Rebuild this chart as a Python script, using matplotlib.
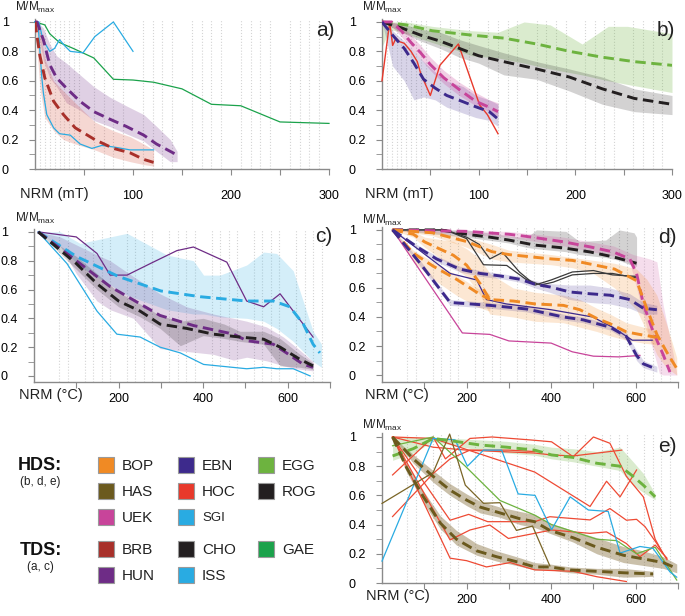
import matplotlib
matplotlib.use("Agg")
import matplotlib.pyplot as plt
from matplotlib.patches import Rectangle
import numpy as np

plt.rcParams['font.family'] = ['Liberation Sans', 'DejaVu Sans']

# ---------------- colours ----------------
C_BOP = '#F08A24'; C_HAS = '#6B5A1E'; C_UEK = '#C8449A'
C_EBN = '#3D2A8C'; C_HOC = '#E8392B'; C_SGI = '#29ABE2'
C_EGG = '#6DB33F'; C_ROG = '#231F20'
C_BRB = '#A8302A'; C_HUN = '#6E2C86'; C_CHO = '#231F20'
C_ISS = '#29ABE2'; C_GAE = '#1BA24B'

# ---------------- panel a (TDS, AF) ----------------
A_BRB_X = [0, 5, 10, 19, 29, 41, 61, 80, 97, 111, 121]
A_BRB_Y = [1.0, 0.77, 0.62, 0.46, 0.37, 0.28, 0.20, 0.14, 0.11, 0.065, 0.045]
A_BRB_HI = [1.0, 0.95, 0.75, 0.60, 0.53, 0.45, 0.32, 0.26, 0.22, 0.17, 0.13]
A_BRB_LO = [1.0, 0.55, 0.35, 0.26, 0.20, 0.17, 0.13, 0.08, 0.05, 0.03, 0.02]
A_HUN_X = [0, 2, 8.5, 15, 22, 32, 46, 60, 76, 93, 111, 124, 138, 145]
A_HUN_Y = [1.0, 1.0, 0.88, 0.71, 0.62, 0.55, 0.46, 0.39, 0.34, 0.29, 0.23, 0.17, 0.12, 0.095]
A_HUN_HI = [1.0, 1.0, 0.96, 0.85, 0.77, 0.72, 0.64, 0.56, 0.49, 0.43, 0.37, 0.29, 0.20, 0.12]
A_HUN_LO = [1.0, 0.97, 0.74, 0.62, 0.56, 0.45, 0.40, 0.33, 0.29, 0.24, 0.19, 0.12, 0.05, 0.05]
A_ISS1_X = [0, 3, 5, 7, 8.5, 12, 19, 25, 36, 46, 58, 68, 80, 97, 121]
A_ISS1_Y = [1.0, 1.0, 0.80, 0.62, 0.52, 0.37, 0.28, 0.24, 0.23, 0.17, 0.14, 0.16, 0.15, 0.13, 0.13]
A_ISS2_X = [0, 4, 8, 15, 20, 25, 30, 36, 49, 61, 80, 100]
A_ISS2_Y = [1.0, 1.0, 0.88, 0.80, 0.82, 0.88, 0.84, 0.80, 0.79, 0.90, 1.0, 0.80]
A_GAE_X = [0, 10, 15, 25, 39, 60, 80, 100, 121, 150, 180, 210, 250, 300]
A_GAE_Y = [1.0, 0.98, 0.92, 0.86, 0.82, 0.755, 0.61, 0.605, 0.59, 0.545, 0.44, 0.43, 0.32, 0.31]

# ---------------- panel b (HDS, AF) ----------------
B_EGG_X = [0, 25, 52, 93, 126, 160, 194, 228, 261, 300]
B_EGG_Y = [1.0, 0.98, 0.94, 0.91, 0.89, 0.85, 0.80, 0.76, 0.73, 0.705]
B_EGG_BX = [0, 8, 25, 52, 72, 93, 120, 147, 174, 207, 234, 254, 300]
B_EGG_HI = [1.0, 1.0, 1.0, 0.97, 0.955, 0.94, 0.93, 1.0, 0.98, 0.85, 0.97, 0.97, 0.92]
B_EGG_LO = [0.83, 0.95, 0.92, 0.86, 0.82, 0.77, 0.755, 0.72, 0.68, 0.64, 0.60, 0.575, 0.52]
B_ROG_X = [0, 20, 40, 60, 80, 100, 126, 160, 194, 228, 261, 300]
B_ROG_Y = [1.0, 0.96, 0.91, 0.87, 0.82, 0.77, 0.73, 0.68, 0.625, 0.545, 0.48, 0.44]
B_ROG_HI = [1.0, 0.99, 0.95, 0.93, 0.88, 0.84, 0.79, 0.73, 0.68, 0.625, 0.545, 0.50]
B_ROG_LO = [1.0, 0.93, 0.87, 0.82, 0.76, 0.72, 0.64, 0.61, 0.53, 0.44, 0.39, 0.37]
B_UEK_X = [0, 10, 20, 30, 40, 50, 64, 80, 97, 111, 120]
B_UEK_Y = [1.0, 1.0, 0.94, 0.86, 0.79, 0.71, 0.62, 0.54, 0.46, 0.42, 0.39]
B_UEK_HI = [1.0, 1.0, 0.98, 0.91, 0.84, 0.76, 0.67, 0.59, 0.52, 0.47, 0.45]
B_UEK_LO = [1.0, 0.97, 0.90, 0.82, 0.75, 0.67, 0.58, 0.50, 0.43, 0.39, 0.36]
B_EBN_X = [0, 11, 23, 33, 43, 55, 67, 84, 97, 111, 120]
B_EBN_Y = [1.0, 0.91, 0.82, 0.72, 0.61, 0.55, 0.50, 0.457, 0.423, 0.39, 0.34]
B_EBN_HI = [1.0, 0.94, 0.87, 0.80, 0.73, 0.66, 0.60, 0.56, 0.50, 0.47, 0.44]
B_EBN_LO = [1.0, 0.70, 0.60, 0.47, 0.49, 0.47, 0.42, 0.38, 0.35, 0.33, 0.29]
B_HOC_X = [0, 8, 11, 14.5, 18, 23, 30, 36.5, 40, 50, 60, 79, 101, 109, 120]
B_HOC_Y = [0.60, 1.0, 0.84, 0.89, 0.866, 0.855, 0.80, 0.73, 0.65, 0.50, 0.706, 0.85, 0.435, 0.37, 0.24]

# ---------------- panel c (TDS, thermal) ----------------
C_ISS_X = [10, 100, 200, 300, 393, 503, 566, 605, 637, 660, 676]
C_ISS_Y = [1.0, 0.83, 0.69, 0.59, 0.55, 0.52, 0.52, 0.48, 0.36, 0.22, 0.16]
C_ISS_BX = [10, 62, 109, 220, 314, 377, 401, 440, 503, 543, 574, 613, 660, 680]
C_ISS_HI = [1.0, 1.0, 0.92, 0.99, 0.84, 0.80, 0.70, 0.70, 0.77, 0.86, 0.85, 0.73, 0.31, 0.22]
C_ISS_LO = [1.0, 0.90, 0.76, 0.56, 0.46, 0.43, 0.43, 0.41, 0.40, 0.38, 0.33, 0.24, 0.10, 0.06]
C_HUNS_X = [10, 100, 149, 180, 220, 275, 338, 377, 456, 503, 543, 582, 621, 660]
C_HUNS_Y = [1.0, 0.965, 0.85, 0.70, 0.70, 0.78, 0.87, 0.895, 0.79, 0.52, 0.48, 0.57, 0.42, 0.27]
C_HUN_X = [10, 100, 180, 204, 298, 377, 472, 503, 566, 597, 637, 660]
C_HUN_Y = [1.0, 0.80, 0.62, 0.58, 0.42, 0.35, 0.29, 0.245, 0.22, 0.16, 0.08, 0.06]
C_HUN_BX = [10, 62, 100, 149, 180, 235, 298, 361, 424, 472, 503, 550, 590, 620, 660]
C_HUN_HI = [1.0, 0.965, 0.91, 0.84, 0.80, 0.69, 0.57, 0.48, 0.43, 0.40, 0.38, 0.34, 0.27, 0.20, 0.10]
C_HUN_LO = [1.0, 0.90, 0.71, 0.52, 0.46, 0.40, 0.19, 0.17, 0.15, 0.11, 0.13, 0.105, 0.07, 0.05, 0.035]
C_CHO_X = [10, 100, 149, 200, 251, 298, 361, 424, 487, 543, 582, 629, 660]
C_CHO_Y = [1.0, 0.78, 0.64, 0.52, 0.45, 0.36, 0.33, 0.29, 0.27, 0.255, 0.20, 0.115, 0.07]
C_CHO_BX = [10, 100, 149, 200, 251, 298, 346, 400, 450, 487, 543, 582, 629, 660]
C_CHO_HI = [1.0, 0.83, 0.71, 0.58, 0.50, 0.42, 0.38, 0.40, 0.36, 0.31, 0.31, 0.26, 0.15, 0.09]
C_CHO_LO = [1.0, 0.74, 0.60, 0.48, 0.41, 0.33, 0.21, 0.28, 0.26, 0.24, 0.22, 0.07, 0.06, 0.045]
C_ISSS_X = [10, 78, 149, 196, 251, 298, 346, 401, 503, 543, 574, 613, 653]
C_ISSS_Y = [1.0, 0.78, 0.45, 0.29, 0.27, 0.20, 0.16, 0.08, 0.05, 0.06, 0.05, 0.05, 0.0]

# ---------------- panel d (HDS, thermal) ----------------
D_ROG_X = [25, 138, 200, 255, 300, 362, 429, 492, 547, 602]
D_ROG_Y = [1.0, 1.0, 0.97, 0.95, 0.93, 0.895, 0.876, 0.848, 0.814, 0.77]
D_ROG_BX = [25, 200, 300, 341, 365, 435, 467, 529, 561, 596, 602]
D_ROG_HI = [1.0, 1.0, 0.96, 0.945, 1.0, 0.99, 0.92, 0.93, 1.0, 0.98, 0.95]
D_ROG_LO = [1.0, 0.95, 0.91, 0.88, 0.87, 0.85, 0.83, 0.81, 0.79, 0.75, 0.75]
D_UEK_X = [25, 200, 300, 350, 429, 492, 547, 586, 602, 618, 641, 665, 681]
D_UEK_Y = [1.0, 0.99, 0.97, 0.952, 0.918, 0.883, 0.848, 0.80, 0.70, 0.49, 0.30, 0.14, 0.02]
D_UEK_BX = [25, 300, 429, 547, 586, 594, 633, 650, 656, 665, 689, 697]
D_UEK_HI = [1.0, 0.99, 0.95, 0.89, 0.84, 0.83, 0.80, 0.78, 0.66, 0.48, 0.14, 0.01]
D_UEK_LO = [1.0, 0.95, 0.89, 0.82, 0.77, 0.69, 0.25, 0.08, 0.01, 0.0, 0.0, 0.0]
D_UEKS_X = [25, 190, 255, 300, 400, 450, 500, 560, 610]
D_UEKS_Y = [1.0, 0.29, 0.28, 0.235, 0.22, 0.16, 0.13, 0.125, 0.135]
D_EBN1_X = [25, 82, 129, 184, 232, 279, 326, 362, 397, 445, 492, 539, 586, 618, 650]
D_EBN1_Y = [1.0, 0.885, 0.80, 0.73, 0.70, 0.683, 0.66, 0.625, 0.607, 0.572, 0.56, 0.55, 0.52, 0.46, 0.45]
D_EBN1_HI = [1.0, 0.90, 0.82, 0.75, 0.72, 0.70, 0.68, 0.65, 0.63, 0.62, 0.62, 0.60, 0.56, 0.50, 0.48]
D_EBN1_LO = [1.0, 0.87, 0.78, 0.71, 0.68, 0.665, 0.64, 0.60, 0.57, 0.52, 0.50, 0.49, 0.46, 0.42, 0.42]
D_EBN2_X = [25, 90, 161, 255, 342, 429, 476, 539, 578, 602, 618, 650]
D_EBN2_Y = [1.0, 0.77, 0.50, 0.48, 0.455, 0.40, 0.38, 0.33, 0.265, 0.135, 0.077, 0.04]
D_EBN2_HI = [1.0, 0.79, 0.52, 0.50, 0.475, 0.42, 0.40, 0.35, 0.29, 0.17, 0.10, 0.06]
D_EBN2_LO = [1.0, 0.75, 0.48, 0.46, 0.435, 0.38, 0.36, 0.31, 0.24, 0.10, 0.05, 0.02]
D_EBNS_X = [25, 161, 224, 247, 294, 400, 498, 545, 592, 639]
D_EBNS_Y = [1.0, 0.70, 0.655, 0.52, 0.49, 0.45, 0.40, 0.33, 0.24, 0.24]
D_BOP1_X = [25, 120, 200, 260, 300, 400, 450, 500, 550, 602, 626, 650, 673, 697]
D_BOP1_Y = [1.0, 0.98, 0.92, 0.85, 0.83, 0.80, 0.79, 0.76, 0.73, 0.65, 0.46, 0.28, 0.16, 0.045]
D_BOP1_HI = [1.0, 0.99, 0.95, 0.90, 0.86, 0.83, 0.81, 0.79, 0.77, 0.73, 0.66, 0.55, 0.35, 0.12]
D_BOP1_LO = [1.0, 0.96, 0.88, 0.80, 0.78, 0.76, 0.74, 0.70, 0.60, 0.45, 0.30, 0.14, 0.05, 0.0]
D_BOP2_X = [25, 74, 101, 169, 200, 232, 255, 310, 362, 429, 468, 508, 539, 578, 618, 650]
D_BOP2_Y = [1.0, 0.97, 0.917, 0.825, 0.757, 0.63, 0.52, 0.51, 0.49, 0.48, 0.45, 0.39, 0.354, 0.297, 0.275, 0.26]
D_BOP2_HI = [1.0, 0.99, 0.95, 0.92, 0.87, 0.80, 0.70, 0.60, 0.57, 0.55, 0.52, 0.46, 0.42, 0.36, 0.33, 0.31]
D_BOP2_LO = [1.0, 0.95, 0.88, 0.74, 0.68, 0.55, 0.42, 0.40, 0.37, 0.36, 0.33, 0.30, 0.27, 0.24, 0.22, 0.21]
D_BOP3_X = [25, 74, 121, 176, 224, 255]
D_BOP3_Y = [1.0, 0.84, 0.75, 0.66, 0.57, 0.52]
D_BOP3_HI = [1.0, 0.86, 0.78, 0.69, 0.60, 0.56]
D_BOP3_LO = [1.0, 0.78, 0.66, 0.55, 0.47, 0.44]
D_ROGS1_X = [25, 150, 200, 230, 255, 285, 325, 362, 400, 450, 500, 545, 600]
D_ROGS1_Y = [1.0, 1.0, 0.95, 0.90, 0.80, 0.845, 0.71, 0.62, 0.655, 0.71, 0.72, 0.69, 0.68]
D_ROGS2_X = [25, 150, 200, 240, 295, 340, 375, 405, 450, 500, 545, 600]
D_ROGS2_Y = [1.0, 1.0, 0.94, 0.76, 0.755, 0.66, 0.62, 0.64, 0.69, 0.70, 0.70, 0.67]

# ---------------- panel e (HDS, thermal) ----------------
E_EGG_X = [25, 74, 121, 173, 232, 295, 361, 401, 452, 508, 563, 594, 618, 646]
E_EGG_Y = [0.87, 0.92, 0.99, 0.97, 0.945, 0.93, 0.91, 0.877, 0.86, 0.82, 0.80, 0.73, 0.67, 0.59]
E_EGG_HI = [1.0, 1.0, 1.0, 0.99, 0.98, 0.97, 0.95, 0.93, 0.92, 0.90, 0.93, 0.83, 0.75, 0.61]
E_EGG_LO = [0.84, 0.89, 0.97, 0.94, 0.91, 0.89, 0.875, 0.85, 0.83, 0.80, 0.77, 0.67, 0.62, 0.57]
E_HAS1_X = [25, 74, 121, 161, 200, 232, 279, 326, 361, 397, 452, 508, 571, 618, 665, 697]
E_HAS1_Y = [1.0, 0.85, 0.73, 0.636, 0.568, 0.52, 0.48, 0.44, 0.42, 0.36, 0.31, 0.245, 0.19, 0.165, 0.14, 0.10]
E_HAS1_HI = [1.0, 0.88, 0.77, 0.68, 0.61, 0.56, 0.52, 0.49, 0.47, 0.41, 0.36, 0.31, 0.25, 0.22, 0.18, 0.13]
E_HAS1_LO = [1.0, 0.82, 0.69, 0.60, 0.53, 0.48, 0.45, 0.40, 0.38, 0.34, 0.28, 0.20, 0.14, 0.12, 0.10, 0.07]
E_HAS2_X = [25, 58, 98, 138, 176, 224, 271, 318, 361, 397, 445, 508, 571, 641]
E_HAS2_Y = [1.0, 0.79, 0.59, 0.41, 0.30, 0.22, 0.18, 0.146, 0.11, 0.11, 0.089, 0.08, 0.07, 0.062]
E_HAS2_HI = [1.0, 0.82, 0.63, 0.46, 0.36, 0.27, 0.22, 0.18, 0.14, 0.13, 0.11, 0.10, 0.10, 0.08]
E_HAS2_LO = [1.0, 0.76, 0.55, 0.37, 0.26, 0.19, 0.15, 0.12, 0.09, 0.09, 0.07, 0.06, 0.04, 0.045]
E_HASS_X = [0, 121, 160, 197, 240, 279, 318, 356, 397]
E_HASS_Y = [0.545, 0.757, 1.02, 0.67, 0.546, 0.55, 0.36, 0.39, 0.117]
E_SGI_X = [0, 121, 173, 202, 240, 283, 322, 362, 401, 445, 488, 535, 563, 610, 641, 681, 697]
E_SGI_Y = [0.15, 0.99, 0.98, 0.80, 0.91, 0.91, 0.61, 0.60, 0.365, 0.59, 0.50, 0.49, 0.205, 0.25, 0.237, 0.076, 0.04]
E_EGGS_X = [25, 121, 197, 279, 361, 401, 508, 555, 602, 646, 697]
E_EGGS_Y = [0.94, 1.0, 0.80, 0.565, 0.465, 0.40, 0.30, 0.29, 0.20, 0.245, 0.02]
E_HOC1_X = [25, 121, 150, 208, 260, 350, 401, 452, 500, 539, 578, 618, 646, 665]
E_HOC1_Y = [0.74, 1.0, 0.85, 0.99, 1.0, 0.98, 0.967, 0.865, 1.0, 0.957, 0.73, 0.59, 0.30, 0.20]
E_HOC2_X = [25, 121, 200, 361, 401, 452, 567]
E_HOC2_Y = [1.0, 0.93, 0.91, 0.89, 0.877, 0.87, 0.91]
E_HOC3_X = [25, 121, 361, 492, 531, 563, 602]
E_HOC3_Y = [1.0, 0.99, 0.76, 0.524, 0.697, 0.59, 0.774]
E_HOC4_X = [25, 161, 205, 250, 361, 397, 492, 539, 578, 602, 622, 650, 674]
E_HOC4_Y = [1.0, 0.43, 0.47, 0.42, 0.42, 0.454, 0.432, 0.51, 0.43, 0.436, 0.386, 0.27, 0.16]
E_HOC5_X = [25, 161, 208, 255, 299, 361, 401, 492, 531, 578, 610, 646, 674]
E_HOC5_Y = [1.0, 0.295, 0.363, 0.397, 0.305, 0.34, 0.363, 0.34, 0.35, 0.27, 0.18, 0.26, 0.17]
E_HOC6_X = [25, 161, 200, 247, 303, 361, 452, 508, 578]
E_HOC6_Y = [1.0, 0.17, 0.153, 0.11, 0.14, 0.09, 0.08, 0.043, 0.01]
E_HOC7_X = [25, 121, 161, 208, 300, 361]
E_HOC7_Y = [0.455, 0.75, 0.85, 0.91, 0.91, 0.90]

# ---------------- legend ----------------
HDS_NAMES = [['BOP', 'EBN', 'EGG'], ['HAS', 'HOC', 'ROG'], ['UEK', 'SGI']]
HDS_COLS = [[C_BOP, C_EBN, C_EGG], [C_HAS, C_HOC, C_ROG], [C_UEK, C_SGI]]
TDS_NAMES = [['BRB', 'CHO', 'GAE'], ['HUN', 'ISS']]
TDS_COLS = [[C_BRB, C_CHO, C_GAE], [C_HUN, C_ISS]]

W, H = 685, 616
fig = plt.figure(figsize=(W / 100, H / 100), dpi=100)


def add_ax(x0, x1, ytop, ybot):
    return fig.add_axes([x0 / W, (H - ybot) / H, (x1 - x0) / W, (ybot - ytop) / H])


SPINE = '#8a8a8a'


def style(ax, kind, xpad):
    for s in ['top', 'right']:
        ax.spines[s].set_visible(False)
    for s in ['left', 'bottom']:
        ax.spines[s].set_color(SPINE)
        ax.spines[s].set_linewidth(1.0)
    ax.set_yticks([0, 0.2, 0.4, 0.6, 0.8, 1.0])
    ax.set_yticklabels(['0', '0.2', '0.4', '0.6', '0.8', '1'])
    ax.set_yticks(np.arange(0.1, 1.0, 0.2), minor=True)
    if kind == 'af':
        ax.set_xlim(0, 300)
        ax.set_xticks([50, 100, 150, 200, 250, 300])
        ax.set_xticklabels(['', '100', '', '200', '', '300'])
        mx = list(range(5, 50, 5)) + list(range(50, 301, 10))
    else:
        ax.set_xlim(0, 700)
        ax.set_xticks([100, 200, 300, 400, 500, 600, 700])
        ax.set_xticklabels(['', '200', '', '400', '', '600', ''])
        mx = list(range(60, 700, 20))
    ax.set_xticks(mx, minor=True)
    ax.grid(which='minor', axis='x', color='#d4d4d4', linestyle=':', linewidth=0.8)
    ax.tick_params(axis='x', which='minor', length=0)
    ax.tick_params(axis='x', which='major', length=4, color=SPINE, labelsize=9, pad=xpad)
    ax.tick_params(axis='y', which='both', length=4, color=SPINE, labelsize=9, pad=20)
    for lab in ax.get_yticklabels():
        lab.set_horizontalalignment('left')
    ax.set_axisbelow(True)


def band(ax, x, lo, hi, color, alpha=0.25):
    ax.fill_between(x, lo, hi, color=color, alpha=alpha, lw=0, zorder=1)


def mean(ax, x, y, color):
    ax.plot(x, y, color=color, lw=2.1, dashes=(3.6, 1.9), zorder=4, solid_capstyle='butt')


def thin(ax, x, y, color, lw=0.9):
    ax.plot(x, y, color=color, lw=lw, zorder=3, clip_on=False)


def decorate(ax, letter, lx, ly, mx, my, nx, nlabel, noff):
    ax.text(lx, ly, letter, transform=ax.transAxes, ha='right', va='center', fontsize=15, color='#222')
    ax.text(mx, my, r'$\mathregular{M/M_{max}}$', transform=ax.transAxes, ha='left', va='center',
            fontsize=8.5, color='#222')
    ax.annotate(nlabel, xy=(nx, 0), xycoords=('data', 'axes fraction'), xytext=(0, noff),
                textcoords='offset points', ha='center', va='center', fontsize=10.5, color='#222',
                annotation_clip=False)


# ----- panel a -----
ax = add_ax(35, 329, 19, 169)
ax.set_ylim(0, 1.02)
style(ax, 'af', 11)
band(ax, A_HUN_X, A_HUN_LO, A_HUN_HI, C_HUN, 0.22)
band(ax, A_BRB_X, A_BRB_LO, A_BRB_HI, '#D9604F', 0.25)
thin(ax, A_GAE_X, A_GAE_Y, C_GAE)
thin(ax, A_ISS1_X, A_ISS1_Y, C_ISS)
thin(ax, A_ISS2_X, A_ISS2_Y, C_ISS)
mean(ax, A_HUN_X, A_HUN_Y, C_HUN)
mean(ax, A_BRB_X, A_BRB_Y, C_BRB)
decorate(ax, 'a)', 1.02, 0.92, -0.068, 1.08, 20, 'NRM (mT)', -18)

# ----- panel b -----
ax = add_ax(382, 672, 19, 169)
ax.set_ylim(0, 1.02)
style(ax, 'af', 11)
band(ax, B_EGG_BX, B_EGG_LO, B_EGG_HI, C_EGG, 0.25)
band(ax, B_ROG_X, B_ROG_LO, B_ROG_HI, C_ROG, 0.2)
band(ax, B_EBN_X, B_EBN_LO, B_EBN_HI, C_EBN, 0.2)
band(ax, B_UEK_X, B_UEK_LO, B_UEK_HI, C_UEK, 0.25)
thin(ax, B_HOC_X, B_HOC_Y, C_HOC, 1.0)
mean(ax, B_EGG_X, B_EGG_Y, C_EGG)
mean(ax, B_ROG_X, B_ROG_Y, C_ROG)
mean(ax, B_UEK_X, B_UEK_Y, C_UEK)
mean(ax, B_EBN_X, B_EBN_Y, C_EBN)
decorate(ax, 'b)', 1.01, 0.92, -0.068, 1.08, 18, 'NRM (mT)', -18)

# ----- panel c -----
ax = add_ax(34, 330, 229, 382)
ax.set_ylim(-0.042, 1.02)
style(ax, 'th', 4)
band(ax, C_ISS_BX, C_ISS_LO, C_ISS_HI, C_ISS, 0.2)
band(ax, C_HUN_BX, C_HUN_LO, C_HUN_HI, C_HUN, 0.2)
band(ax, C_CHO_BX, C_CHO_LO, C_CHO_HI, C_CHO, 0.2)
thin(ax, C_HUNS_X, C_HUNS_Y, C_HUN)
thin(ax, C_ISSS_X, C_ISSS_Y, C_ISS)
mean(ax, C_ISS_X, C_ISS_Y, C_ISS)
mean(ax, C_HUN_X, C_HUN_Y, C_HUN)
mean(ax, C_CHO_X, C_CHO_Y, C_CHO)
decorate(ax, 'c)', 1.007, 0.954, -0.064, 1.07, 40, 'NRM (°C)', -9.5)

# ----- panel d -----
ax = add_ax(382, 678, 227, 382)
ax.set_ylim(-0.048, 1.02)
style(ax, 'th', 4)
band(ax, D_ROG_BX, D_ROG_LO, D_ROG_HI, C_ROG, 0.2)
band(ax, D_UEK_BX, D_UEK_LO, D_UEK_HI, C_UEK, 0.18)
band(ax, D_BOP1_X, D_BOP1_LO, D_BOP1_HI, C_BOP, 0.2)
band(ax, D_BOP2_X, D_BOP2_LO, D_BOP2_HI, C_BOP, 0.2)
band(ax, D_BOP3_X, D_BOP3_LO, D_BOP3_HI, C_BOP, 0.2)
band(ax, D_EBN1_X, D_EBN1_LO, D_EBN1_HI, C_EBN, 0.18)
band(ax, D_EBN2_X, D_EBN2_LO, D_EBN2_HI, C_EBN, 0.18)
thin(ax, D_UEKS_X, D_UEKS_Y, C_UEK)
thin(ax, D_EBNS_X, D_EBNS_Y, C_EBN)
thin(ax, D_ROGS1_X, D_ROGS1_Y, '#3a3a3a')
thin(ax, D_ROGS2_X, D_ROGS2_Y, '#3a3a3a')
mean(ax, D_ROG_X, D_ROG_Y, C_ROG)
mean(ax, D_UEK_X, D_UEK_Y, C_UEK)
mean(ax, D_BOP1_X, D_BOP1_Y, C_BOP)
mean(ax, D_BOP2_X, D_BOP2_Y, C_BOP)
mean(ax, D_BOP3_X, D_BOP3_Y, C_BOP)
mean(ax, D_EBN1_X, D_EBN1_Y, C_EBN)
mean(ax, D_EBN2_X, D_EBN2_Y, C_EBN)
decorate(ax, 'd)', 0.997, 0.93, -0.068, 1.045, 35, 'NRM (°C)', -9.5)

# ----- panel e -----
ax = add_ax(382, 678, 432.6, 583)
ax.set_ylim(0, 1.03)
style(ax, 'th', 4)
band(ax, E_EGG_X, E_EGG_LO, E_EGG_HI, C_EGG, 0.25)
band(ax, E_HAS1_X, E_HAS1_LO, E_HAS1_HI, '#8A7444', 0.45)
band(ax, E_HAS2_X, E_HAS2_LO, E_HAS2_HI, '#8A7444', 0.45)
for xs, ys in [(E_HOC1_X, E_HOC1_Y), (E_HOC2_X, E_HOC2_Y), (E_HOC3_X, E_HOC3_Y),
               (E_HOC4_X, E_HOC4_Y), (E_HOC5_X, E_HOC5_Y), (E_HOC6_X, E_HOC6_Y),
               (E_HOC7_X, E_HOC7_Y)]:
    thin(ax, xs, ys, '#EE4A34')
thin(ax, E_EGGS_X, E_EGGS_Y, C_EGG)
thin(ax, E_SGI_X, E_SGI_Y, C_SGI)
thin(ax, E_HASS_X, E_HASS_Y, '#7A6526')
mean(ax, E_EGG_X, E_EGG_Y, C_EGG)
mean(ax, E_HAS1_X, E_HAS1_Y, C_HAS)
mean(ax, E_HAS2_X, E_HAS2_Y, C_HAS)
decorate(ax, 'e)', 0.997, 0.91, -0.068, 1.05, 38, 'NRM (°C)', -9.5)

# ----- legend -----
lg = fig.add_axes([0, 0, 340 / W, 206 / H])
lg.set_xlim(0, 340)
lg.set_ylim(616, 410)
lg.axis('off')
COLX = [98, 178, 258]
HDS_ROWY = [465, 491, 517]
TDS_ROWY = [549, 575]


def legend_rows(names, cols, rows):
    for r, (nrow, crow) in enumerate(zip(names, cols)):
        for c, (n, col) in enumerate(zip(nrow, crow)):
            y = rows[r]
            lg.add_patch(Rectangle((COLX[c], y - 8), 16, 16, facecolor=col, edgecolor='#9a9a9a', lw=0.8))
            fs = 9.5 if n == 'SGI' else 11
            lg.text(COLX[c] + 24, y + 1, n, ha='left', va='center', fontsize=fs, color='#222')


legend_rows(HDS_NAMES, HDS_COLS, HDS_ROWY)
legend_rows(TDS_NAMES, TDS_COLS, TDS_ROWY)
lg.text(18, 465, 'HDS:', ha='left', va='center', fontsize=13, fontweight='bold', color='#111')
lg.text(40, 482, '(b, d, e)', ha='center', va='center', fontsize=8.5, color='#222')
lg.text(20, 550, 'TDS:', ha='left', va='center', fontsize=13, fontweight='bold', color='#111')
lg.text(40, 567, '(a, c)', ha='center', va='center', fontsize=8.5, color='#222')

fig.savefig('out.png', dpi=100)
